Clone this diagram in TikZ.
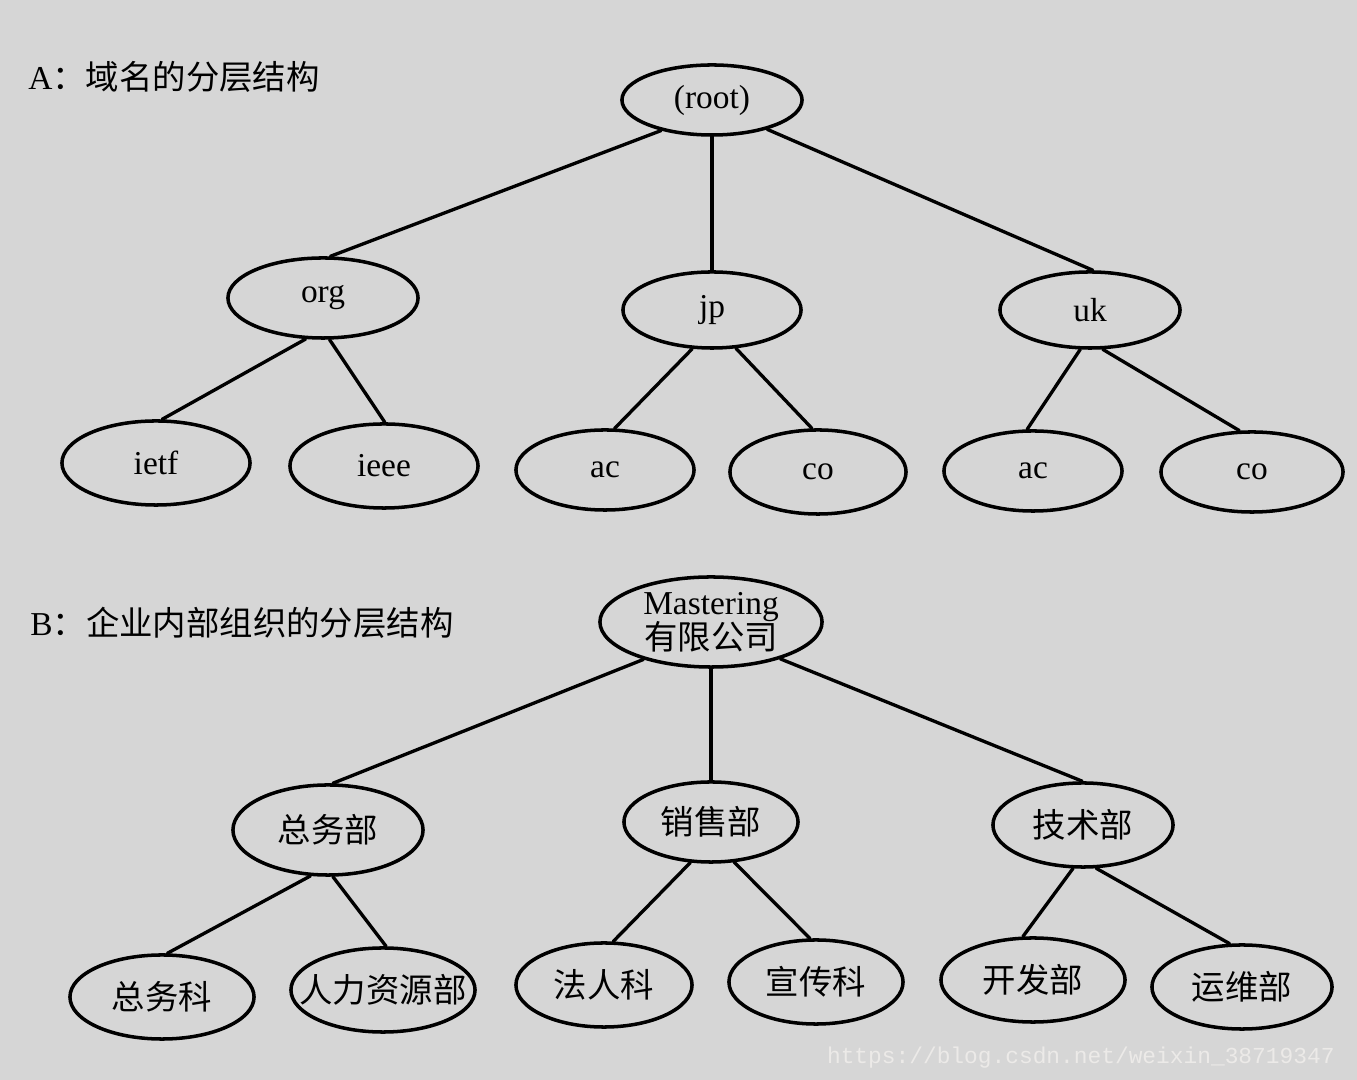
\documentclass[tikz,border=0pt]{standalone}
\usepackage{fontspec}
\setmainfont{Liberation Serif}
\newfontfamily\cjk{Noto Sans CJK SC}
\newfontfamily\wmfont{Liberation Mono}
\usepackage{tikz}
\usetikzlibrary{shapes.geometric}
\definecolor{paper}{RGB}{214,214,214}
\definecolor{mark}{RGB}{236,234,232}

\begin{document}
\begin{tikzpicture}[line cap=round,line join=round,x=0.01cm,y=-0.01cm,
    ell/.style={draw,ellipse,line width=1pt,inner sep=0pt,minimum width=1.8cm,minimum height=0.8cm,font=\fontsize{9.5}{11}\selectfont},
    edge/.style={line width=0.95pt}]
    % \draw [color=gray,dash pattern=on 1pt off 1pt, step=100] (0,0) grid (1357,1080);
    \fill[color=paper] (0,0) rectangle (1357,1080);
    \useasboundingbox (0,0) rectangle (1357,1080);
    \node[anchor=west,font=\fontsize{9.5}{11}\selectfont] (titleA) at (16,77) {A\cjk：域名的分层结构};
    \node[anchor=west,font=\fontsize{9.5}{11}\selectfont] (titleB) at (18,623) {B\cjk：企业内部组织的分层结构};
    % A
    \node[ell,minimum height=0.7cm] (root) at (712,100) {(root)};
    \node[ell,minimum width=1.9cm] (org) at (323,298) {org};
    \node[ell,minimum width=1.78cm,minimum height=0.76cm] (jp) at (712,310) {jp};
    \node[ell,minimum height=0.76cm] (uk) at (1090,310) {uk};
    \node[ell,minimum width=1.88cm,minimum height=0.84cm] (ietf) at (156,463) {ietf};
    \node[ell,minimum width=1.88cm,minimum height=0.84cm] (ieee) at (384,466) {ieee};
    \node[ell,minimum width=1.78cm] (jpac) at (605,470) {ac};
    \node[ell,minimum width=1.76cm,minimum height=0.84cm] (jpco) at (818,472) {co};
    \node[ell,minimum width=1.78cm] (ukac) at (1033,471) {ac};
    \node[ell,minimum width=1.82cm] (ukco) at (1252,472) {co};
    \foreach \a/\p/\b/\c in {root/-149/org/80,root/-90/jp/90,root/-28/uk/86,
        org/-113/ietf/82,org/-81/ieee/89,jp/-117/jpac/77,jp/-58/jpco/98,uk/-104/ukac/98,uk/-72/ukco/107}
    \draw[edge] (\a.\p) -- (\b.\c);
    % B
    \node[ell,minimum width=2.22cm,minimum height=0.9cm,align=center] (mast) at (711,622) {Mastering\\[-1pt]{\cjk 有限公司}};
    \node[ell,minimum width=1.9cm,minimum height=0.9cm] (zwb) at (328,830) {\cjk 总务部};
    \node[ell,minimum width=1.74cm] (xsb) at (711,822) {\cjk 销售部};
    \node[ell,minimum height=0.84cm] (jsb) at (1083,825) {\cjk 技术部};
    \node[ell,minimum width=1.84cm,minimum height=0.84cm] (zwk) at (162,997) {\cjk 总务科};
    \node[ell,minimum width=1.84cm,minimum height=0.84cm] (rlb) at (383,990) {\makebox[1.2cm]{\cjk 人力资源部}};
    \node[ell,minimum width=1.76cm,minimum height=0.84cm] (frk) at (604,985) {\cjk 法人科};
    \node[ell,minimum width=1.74cm,minimum height=0.84cm] (xck) at (816,982) {\cjk 宣传科};
    \node[ell,minimum width=1.84cm,minimum height=0.84cm] (kfb) at (1033,980) {\cjk 开发部};
    \node[ell,minimum width=1.8cm,minimum height=0.84cm] (ywb) at (1242,987) {\cjk 运维部};
    \foreach \a/\p/\b/\c in {mast/-151/zwb/84,mast/-90/xsb/90,mast/-28/jsb/91,
        zwb/-111/zwk/83,zwb/-84/rlb/86,xsb/-117/frk/78,xsb/-60/xck/98,jsb/-103/kfb/103,jsb/-73/ywb/106}
    \draw[edge] (\a.\p) -- (\b.\c);
    \node[anchor=east,color=mark,font=\wmfont\fontsize{6.5}{8}\selectfont] (wm) at (1347,1058) {https://blog.csdn.net/weixin\_38719347};
\end{tikzpicture}
\end{document}
